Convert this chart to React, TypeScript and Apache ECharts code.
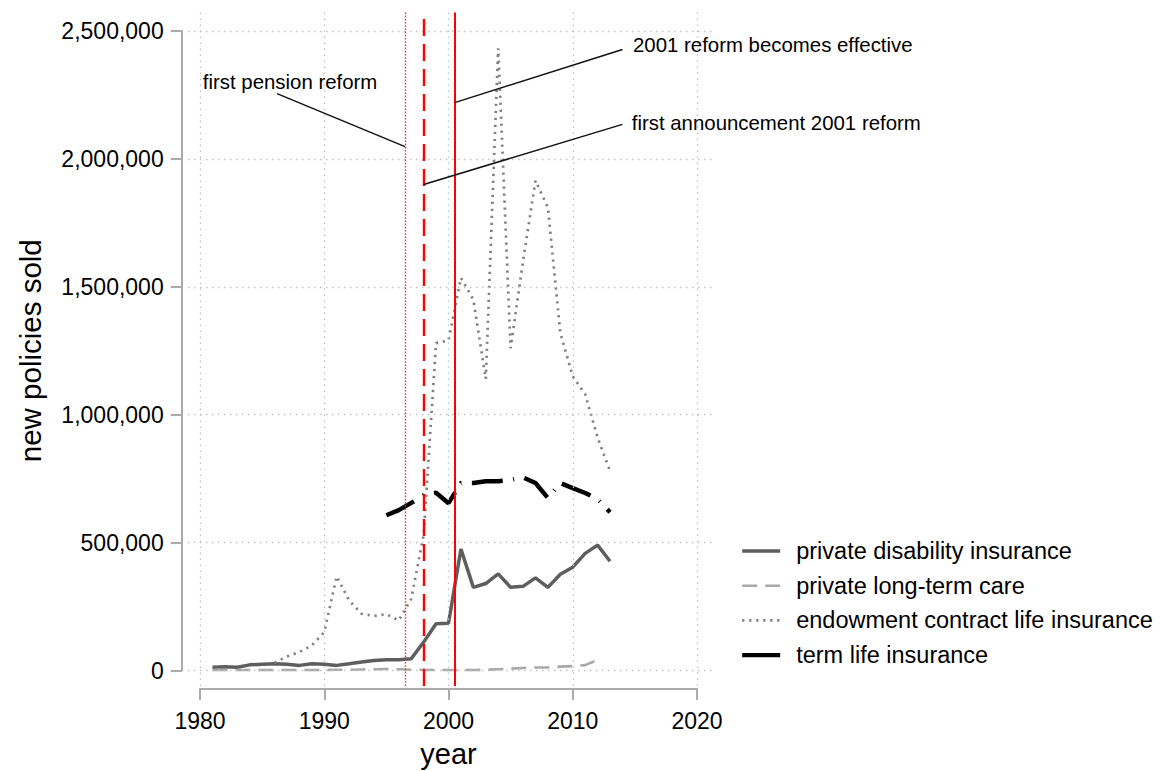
import React, { useEffect, useRef } from "react";
import * as echarts from "echarts";

// ---------- data ----------
const years = [
  1981, 1982, 1983, 1984, 1985, 1986, 1987, 1988, 1989, 1990,
  1991, 1992, 1993, 1994, 1995, 1996, 1997, 1998, 1999, 2000,
  2001, 2002, 2003, 2004, 2005, 2006, 2007, 2008, 2009, 2010,
  2011, 2012, 2013,
];

const disability = [
  13000, 15000, 13000, 22000, 24000, 26000, 24000, 20000, 26000, 24000,
  20000, 26000, 33000, 39000, 42000, 42000, 46000, 111000, 183000, 185000,
  475000, 325000, 340000, 378000, 325000, 329000, 362000, 325000, 376000, 404000,
  458000, 490000, 427000,
];

const longTermCare = [
  2000, 2000, 2000, 2000, 2000, 2000, 2000, 2000, 2000, 2000,
  3000, 3000, 4000, 5000, 6000, 5000, 3000, 3000, 2000, 2000,
  2000, 2000, 3000, 5000, 7000, 10000, 12000, 12000, 15000, 17000,
  21000, 41000, null,
];

const endowment = [
  null, null, null, null, null, 30000, 55000, 72000, 98000, 150000,
  368000, 274000, 222000, 213000, 220000, 196000, 280000, 530000, 1280000, 1290000,
  1535000, 1450000, 1140000, 2432000, 1260000, 1600000, 1915000, 1810000, 1320000, 1150000,
  1080000, 910000, 780000,
];

const termLife = [
  null, null, null, null, null, null, null, null, null, null,
  null, null, null, null, 607000, 627000, 655000, 685000, 695000, 654000,
  733000, 733000, 740000, 740000, 745000, 755000, 733000, 674000, 733000, 713000,
  694000, 670000, 619000,
];

const seriesNames = [
  "private disability insurance",
  "private long-term care",
  "endowment contract life insurance",
  "term life insurance",
];

const xTicks = [1980, 1990, 2000, 2010, 2020];
const yTicks = [0, 500000, 1000000, 1500000, 2000000, 2500000];

// reform dates (year positions of the vertical red lines)
const pensionReform = 1996.5;
const announcement2001 = 1998;
const effective2001 = 2000.5;

// annotation connector lines: [start, end] in data units
const pensionLine = [[1986.2, 2255000], [1996.5, 2048000]];
const effectiveLine = [[2000.5, 2220000], [2014, 2428000]];
const announceLine = [[1998, 1900000], [2014, 2135000]];

const annotationTexts = [
  { text: "first pension reform", at: [1987.25, 2300000], pos: "inside" },
  { text: "2001 reform becomes effective", at: [2014.85, 2445000], pos: "right" },
  { text: "first announcement 2001 reform", at: [2014.75, 2140000], pos: "right" },
];

// ---------- layout ----------
const W = 1160;
const H = 771;
const DATA_LEFT = 200;
const DATA_RIGHT = 697;
const DATA_TOP = 31;
const DATA_BOTTOM = 670.5;
const PLOT_LEFT = 188;
const PLOT_RIGHT = 716;
const PLOT_TOP = 12.5;
const PLOT_BOTTOM = 686;

const X0 = xTicks[0];
const X1 = xTicks[xTicks.length - 1];
const Y0 = yTicks[0];
const Y1 = yTicks[yTicks.length - 1];
const xPerPx = (X1 - X0) / (DATA_RIGHT - DATA_LEFT);
const yPerPx = (Y1 - Y0) / (DATA_BOTTOM - DATA_TOP);
const xMinExt = X0 - (DATA_LEFT - PLOT_LEFT) * xPerPx;
const xMaxExt = X1 + (PLOT_RIGHT - DATA_RIGHT) * xPerPx;
const yMinExt = Y0 - (PLOT_BOTTOM - DATA_BOTTOM) * yPerPx;
const yMaxExt = Y1 + (DATA_TOP - PLOT_TOP) * yPerPx;

const FONT = "'Liberation Sans', Arial, Helvetica, sans-serif";
const AXIS_GRAY = "#ababab";

const pairs = (vals: (number | null)[]) => years.map((y, i) => [y, vals[i]]);

const red = "#ff0000";

function buildOption(): any {
  return {
    animation: false,
    backgroundColor: "#ffffff",
    textStyle: { fontFamily: FONT },
    grid: [
      {
        left: PLOT_LEFT,
        top: PLOT_TOP,
        width: PLOT_RIGHT - PLOT_LEFT,
        height: PLOT_BOTTOM - PLOT_TOP,
        outerBoundsMode: "none",
      },
      {
        left: DATA_LEFT,
        top: DATA_TOP,
        width: DATA_RIGHT - DATA_LEFT,
        height: DATA_BOTTOM - DATA_TOP,
        outerBoundsMode: "none",
      },
    ],
    xAxis: [
      { gridIndex: 0, type: "value", min: xMinExt, max: xMaxExt, show: false },
      {
        gridIndex: 1,
        type: "value",
        min: X0,
        max: X1,
        interval: 10,
        offset: 18.5,
        axisLine: { show: true, onZero: false, lineStyle: { color: AXIS_GRAY, width: 2 } },
        axisTick: { show: true, length: 11, lineStyle: { color: AXIS_GRAY, width: 2 } },
        axisLabel: {
          fontSize: 23,
          color: "#000",
          margin: 20,
          fontFamily: FONT,
          formatter: (v: number) => String(v),
        },
        splitLine: { show: false },
        name: "year",
        nameLocation: "middle",
        nameGap: 50,
        nameTextStyle: { fontSize: 29, color: "#000", fontFamily: FONT },
      },
    ],
    yAxis: [
      { gridIndex: 0, type: "value", min: yMinExt, max: yMaxExt, show: false },
      {
        gridIndex: 1,
        type: "value",
        min: Y0,
        max: Y1,
        interval: 500000,
        offset: 18.3,
        axisLine: { show: true, onZero: false, lineStyle: { color: AXIS_GRAY, width: 2 } },
        axisTick: { show: true, length: 11, lineStyle: { color: AXIS_GRAY, width: 2 } },
        axisLabel: {
          fontSize: 23,
          color: "#000",
          margin: 18,
          fontFamily: FONT,
          formatter: (v: number) => v.toLocaleString("en-US"),
        },
        splitLine: { show: false },
        name: "new policies sold",
        nameLocation: "middle",
        nameGap: 136,
        nameTextStyle: { fontSize: 29.5, color: "#000", fontFamily: FONT },
      },
    ],
    legend: {
      left: 740,
      top: 539,
      orient: "vertical",
      padding: 0,
      itemWidth: 38,
      itemHeight: 14,
      itemGap: 10.7,
      selectedMode: false,
      itemStyle: { opacity: 0 },
      lineStyle: { width: "inherit" },
      textStyle: {
        fontSize: 23.5,
        color: "#000",
        fontFamily: FONT,
        lineHeight: 24,
        padding: [0, 0, 0, 11],
      },
      data: [
        { name: seriesNames[0] },
        { name: seriesNames[1] },
        { name: seriesNames[2] },
        { name: seriesNames[3], lineStyle: { type: "solid" } },
      ],
    },
    series: [
      {
        name: "__grid",
        type: "line",
        xAxisIndex: 0,
        yAxisIndex: 0,
        data: [],
        silent: true,
        z: 1,
        markLine: {
          silent: true,
          symbol: "none",
          label: { show: false },
          lineStyle: { color: "#c2c2c2", width: 1.3, type: [1.5, 4.5] },
          data: [
            ...yTicks.map((v) => ({ yAxis: v })),
            ...xTicks.map((v) => ({ xAxis: v })),
          ],
        },
      },
      {
        name: seriesNames[0],
        type: "line",
        xAxisIndex: 0,
        yAxisIndex: 0,
        data: pairs(disability),
        symbol: "none",
        z: 3,
        lineStyle: { color: "#5e5e5e", width: 3.5, type: "solid" },
        itemStyle: { color: "#5e5e5e" },
      },
      {
        name: seriesNames[1],
        type: "line",
        xAxisIndex: 0,
        yAxisIndex: 0,
        data: pairs(longTermCare),
        symbol: "none",
        z: 3,
        lineStyle: { color: "#a9a9a9", width: 2.6, type: [15, 8], cap: "butt" },
        itemStyle: { color: "#a9a9a9" },
      },
      {
        name: seriesNames[2],
        type: "line",
        xAxisIndex: 0,
        yAxisIndex: 0,
        data: pairs(endowment),
        symbol: "none",
        z: 3,
        lineStyle: { color: "#808080", width: 2.7, type: [2.2, 4.8], cap: "butt" },
        itemStyle: { color: "#808080" },
      },
      {
        name: seriesNames[3],
        type: "line",
        xAxisIndex: 0,
        yAxisIndex: 0,
        data: pairs(termLife),
        symbol: "none",
        z: 3,
        lineStyle: { color: "#000000", width: 4.4, type: [31, 10.5, 1, 10.5], cap: "butt" },
        itemStyle: { color: "#000000" },
      },
      {
        name: "__reforms",
        type: "line",
        xAxisIndex: 0,
        yAxisIndex: 0,
        data: [],
        silent: true,
        z: 5,
        markLine: {
          silent: true,
          symbol: "none",
          label: { show: false },
          data: [
            { xAxis: pensionReform, lineStyle: { color: "#ff2a2a", width: 1.4, type: [1.6, 1.6] } },
            { xAxis: announcement2001, lineStyle: { color: red, width: 2.4, type: [17, 8] } },
            { xAxis: effective2001, lineStyle: { color: red, width: 2, type: "solid" } },
          ],
        },
      },
      {
        name: "__annotations",
        type: "line",
        xAxisIndex: 0,
        yAxisIndex: 0,
        data: [],
        silent: true,
        z: 6,
        markLine: {
          silent: true,
          symbol: "none",
          label: { show: false },
          lineStyle: { color: "#111", width: 1.5, type: "solid" },
          data: [pensionLine, effectiveLine, announceLine].map((seg) => [
            { coord: seg[0] },
            { coord: seg[1] },
          ]),
        },
        markPoint: {
          silent: true,
          symbol: "circle",
          symbolSize: 0,
          itemStyle: { color: "transparent" },
          data: annotationTexts.map((a) => ({
            coord: a.at,
            label: {
              show: true,
              formatter: a.text,
              position: a.pos,
              distance: 0,
              fontSize: 20.4,
              color: "#000",
              fontFamily: FONT,
            },
          })),
        },
      },
    ],
  };
}

export default function App() {
  const ref = useRef<HTMLDivElement>(null);
  useEffect(() => {
    if (!ref.current) return;
    const chart = echarts.init(ref.current, undefined, { renderer: "svg" });
    chart.setOption(buildOption());
    return () => chart.dispose();
  }, []);
  return (
    <div
      ref={ref}
      style={{ position: "fixed", left: 0, top: 0, width: W, height: H, background: "#fff" }}
    />
  );
}
